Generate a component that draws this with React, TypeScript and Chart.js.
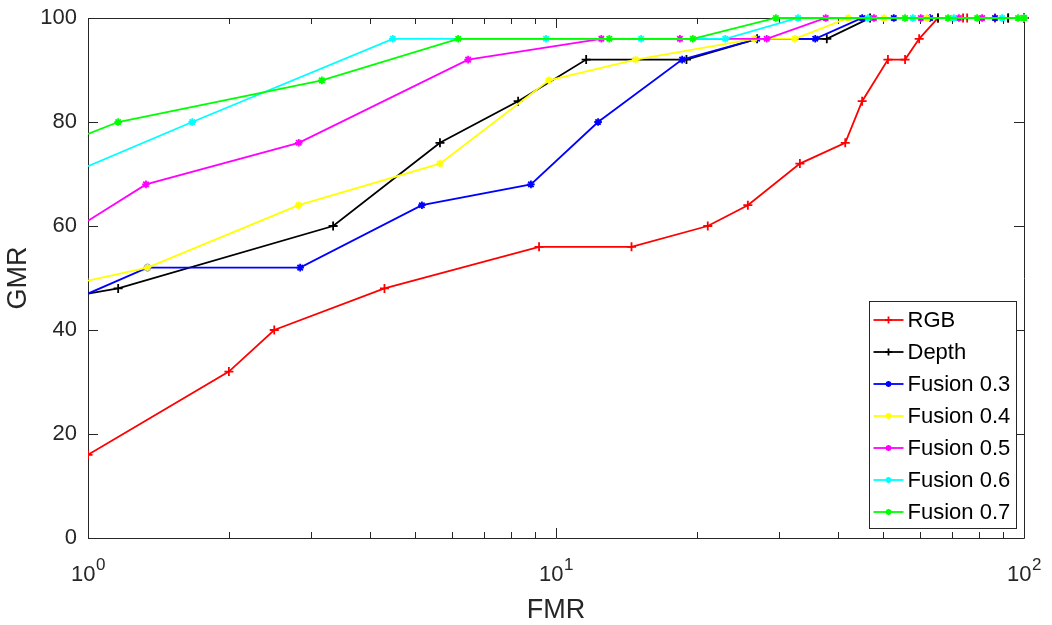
import React, { useEffect, useRef } from 'react';
import { Chart, registerables } from 'chart.js';
import { drawPoint } from 'chart.js/helpers';

Chart.register(...registerables);

// ---------- data ----------
const seriesNames = ['RGB', 'Depth', 'Fusion 0.3', 'Fusion 0.4', 'Fusion 0.5', 'Fusion 0.6', 'Fusion 0.7'];

const rgbX = [1, 2.0, 2.5, 4.3, 9.2, 14.5, 21.1, 25.7, 33.2, 41.5, 45.1, 51.2, 55.7, 59.7, 65.5, 74.1, 75.6, 86.7, 92.5, 100];
const rgbY = [16, 32, 40, 48, 56, 56, 60, 64, 72, 76, 84, 92, 92, 96, 100, 100, 100, 100, 100, 100];

const depthX = [1, 1.16, 3.34, 5.65, 8.3, 11.6, 19.0, 26.9, 37.9, 46.9, 65.5, 92.5, 100];
const depthY = [47, 48, 60, 76, 84, 92, 92, 96, 96, 100, 100, 100, 100];

const fusion03X = [1, 1.34, 2.84, 5.17, 8.84, 12.3, 18.6, 26.9, 35.8, 45.1, 52.7, 63.0, 86.7, 100];
const fusion03Y = [47, 52, 52, 64, 68, 80, 92, 96, 96, 100, 100, 100, 100, 100];

const fusion04X = [1, 1.34, 2.82, 5.65, 9.66, 14.8, 26.5, 32.4, 42.1, 50.2, 62.1, 81.4, 100];
const fusion04Y = [49.5, 52, 64, 72, 88, 92, 96, 96, 100, 100, 100, 100, 100];

const fusion05X = [1, 1.33, 2.82, 6.49, 12.5, 18.4, 28.2, 37.7, 47.8, 60.2, 72.6, 81.4, 100];
const fusion05Y = [61, 68, 76, 92, 96, 96, 96, 100, 100, 100, 100, 100, 100];

const fusion06X = [1, 1.67, 4.48, 9.52, 15.2, 23.0, 32.9, 46.4, 57.9, 70.8, 89.8, 100];
const fusion06Y = [71.5, 80, 96, 96, 96, 96, 100, 100, 100, 100, 100, 100];

const fusion07X = [1, 1.16, 3.16, 6.18, 13.0, 19.6, 29.5, 55.7, 68.8, 79.4, 97.1, 100];
const fusion07Y = [77.7, 80, 88, 96, 96, 96, 100, 100, 100, 100, 100, 100];

const xTickValues = [1, 10, 100];
const xTickBase = '10';
const xTickExponents = ['0', '1', '2'];
const xMinorTicks = [2, 3, 4, 5, 6, 7, 8, 9, 20, 30, 40, 50, 60, 70, 80, 90];
const yTickValues = [0, 20, 40, 60, 80, 100];

// ---------- styles ----------
const colors = ['#ff0000', '#000000', '#0000ff', '#ffff00', '#ff00ff', '#00ffff', '#00ff00'];
const markers = ['cross', 'cross', 'star', 'star', 'star', 'star', 'star'];
const firstMarkerHidden = [false, true, true, true, true, true, true];
const FONT = "'Liberation Sans', Arial, Helvetica, sans-serif";
const AXIS_COLOR = '#262626';

const allX = [rgbX, depthX, fusion03X, fusion04X, fusion05X, fusion06X, fusion07X];
const allY = [rgbY, depthY, fusion03Y, fusion04Y, fusion05Y, fusion06Y, fusion07Y];

const frameTicksPlugin = {
  id: 'frameTicks',
  beforeDatasetsDraw(chart: any) {
    const { ctx, chartArea: a } = chart;
    const xs = chart.scales.x;
    const ys = chart.scales.y;
    ctx.save();
    ctx.strokeStyle = AXIS_COLOR;
    ctx.lineWidth = 1;
    ctx.beginPath();
    ctx.rect(Math.round(a.left) + 0.5, Math.round(a.top) + 0.5, Math.round(a.right - a.left), Math.round(a.bottom - a.top));
    ctx.stroke();
    ctx.beginPath();
    const majorLen = 10;
    const minorLen = 6;
    xTickValues.forEach((v) => {
      const px = Math.round(xs.getPixelForValue(v)) + 0.5;
      ctx.moveTo(px, a.bottom); ctx.lineTo(px, a.bottom - majorLen);
      ctx.moveTo(px, a.top); ctx.lineTo(px, a.top + majorLen);
    });
    xMinorTicks.forEach((v) => {
      const px = Math.round(xs.getPixelForValue(v)) + 0.5;
      ctx.moveTo(px, a.bottom); ctx.lineTo(px, a.bottom - minorLen);
      ctx.moveTo(px, a.top); ctx.lineTo(px, a.top + minorLen);
    });
    yTickValues.forEach((v) => {
      const py = Math.round(ys.getPixelForValue(v)) + 0.5;
      ctx.moveTo(a.left, py); ctx.lineTo(a.left + majorLen, py);
      ctx.moveTo(a.right, py); ctx.lineTo(a.right - majorLen, py);
    });
    ctx.stroke();

    // x tick labels with real superscript exponents
    ctx.fillStyle = AXIS_COLOR;
    ctx.textBaseline = 'alphabetic';
    ctx.textAlign = 'left';
    xTickValues.forEach((v, i) => {
      const px = xs.getPixelForValue(v);
      ctx.font = `22px ${FONT}`;
      const wBase = ctx.measureText(xTickBase).width;
      ctx.font = `17px ${FONT}`;
      const wExp = ctx.measureText(xTickExponents[i]).width;
      const start = px - (wBase + wExp) / 2;
      ctx.font = `22px ${FONT}`;
      ctx.fillText(xTickBase, start, a.bottom + 43);
      ctx.font = `17px ${FONT}`;
      ctx.fillText(xTickExponents[i], start + wBase + 0.5, a.bottom + 32);
    });
    ctx.restore();
  },
};

const boxLegendPlugin = {
  id: 'boxLegend',
  afterDraw(chart: any) {
    const { ctx, chartArea: a } = chart;
    const w = 147;
    const h = 227;
    const left = Math.round(a.right - 8 - w) + 0.5;
    const top = Math.round(a.bottom - 10 - h) + 0.5;
    ctx.save();
    ctx.fillStyle = '#ffffff';
    ctx.fillRect(left, top, w, h);
    ctx.strokeStyle = '#262626';
    ctx.lineWidth = 1;
    ctx.strokeRect(left, top, w, h);
    chart.data.datasets.forEach((ds: any, i: number) => {
      const cy = top + 18.5 + i * 32;
      ctx.strokeStyle = colors[i];
      ctx.fillStyle = colors[i];
      ctx.lineWidth = 1.8;
      ctx.beginPath();
      ctx.moveTo(left + 4, cy);
      ctx.lineTo(left + 34, cy);
      ctx.stroke();
      drawPoint(ctx, { pointStyle: markers[i], radius: markers[i] === 'cross' ? 3.5 : 3, rotation: 0, borderWidth: 1.8 } as any, left + 19, cy);
      ctx.fillStyle = '#000000';
      ctx.font = `22px ${FONT}`;
      ctx.textBaseline = 'middle';
      ctx.textAlign = 'left';
      ctx.fillText(ds.label, left + 38, cy + 1);
    });
    ctx.restore();
  },
};

export default function App() {
  const canvasRef = useRef<HTMLCanvasElement | null>(null);

  useEffect(() => {
    if (!canvasRef.current) return;
    const datasets = seriesNames.map((name, i) => ({
      label: name,
      data: allX[i].map((x, j) => ({ x, y: allY[i][j] })),
      borderColor: colors[i],
      backgroundColor: colors[i],
      pointBorderColor: colors[i],
      pointBackgroundColor: colors[i],
      borderWidth: 1.8,
      pointStyle: markers[i],
      pointRadius: (c: any) => (firstMarkerHidden[i] && c.dataIndex === 0 ? 0 : markers[i] === 'cross' ? 4.5 : 3.8),
      pointBorderWidth: 1.8,
      tension: 0,
      order: 6 - i,
      clip: { left: 0, top: 8, right: 8, bottom: 0 },
    }));

    const chart = new Chart(canvasRef.current, {
      type: 'line',
      data: { datasets },
      options: {
        animation: false,
        responsive: true,
        maintainAspectRatio: false,
        layout: { padding: { top: 18, right: 28, left: 0, bottom: 0 } },
        plugins: { legend: { display: false }, tooltip: { enabled: false } },
        scales: {
          x: {
            type: 'logarithmic',
            min: 1,
            max: 100,
            grid: { display: false, drawTicks: false },
            border: { display: false },
            afterBuildTicks: (scale: any) => {
              scale.ticks = xTickValues.map((v) => ({ value: v, major: true }));
            },
            afterFit: (scale: any) => {
              scale.height = 87;
              scale.paddingLeft = 0;
              scale.paddingRight = 0;
            },
            ticks: {
              display: false,
              autoSkip: false,
              maxRotation: 0,
              minRotation: 0,
            },
            title: {
              display: true,
              text: 'FMR',
              color: AXIS_COLOR,
              font: { family: FONT, size: 27, lineHeight: 1.1 },
              padding: { top: 0, bottom: 0 },
            },
          },
          y: {
            type: 'linear',
            min: 0,
            max: 100,
            grid: { display: false, drawTicks: false },
            border: { display: false },
            afterBuildTicks: (scale: any) => {
              scale.ticks = yTickValues.map((v) => ({ value: v }));
            },
            afterFit: (scale: any) => {
              scale.width = 88;
              scale.paddingTop = 0;
              scale.paddingBottom = 0;
            },
            ticks: {
              padding: 11,
              color: AXIS_COLOR,
              font: { family: FONT, size: 22 },
            },
            title: {
              display: true,
              text: 'GMR',
              color: AXIS_COLOR,
              font: { family: FONT, size: 27, lineHeight: 1.1 },
              padding: { top: 4, bottom: 0 },
            },
          },
        },
      },
      plugins: [frameTicksPlugin, boxLegendPlugin],
    } as any);

    return () => chart.destroy();
  }, []);

  return (
    <div style={{ position: 'fixed', left: 0, top: 0, width: 1052, height: 625, background: '#ffffff' }}>
      <canvas ref={canvasRef} />
    </div>
  );
}
